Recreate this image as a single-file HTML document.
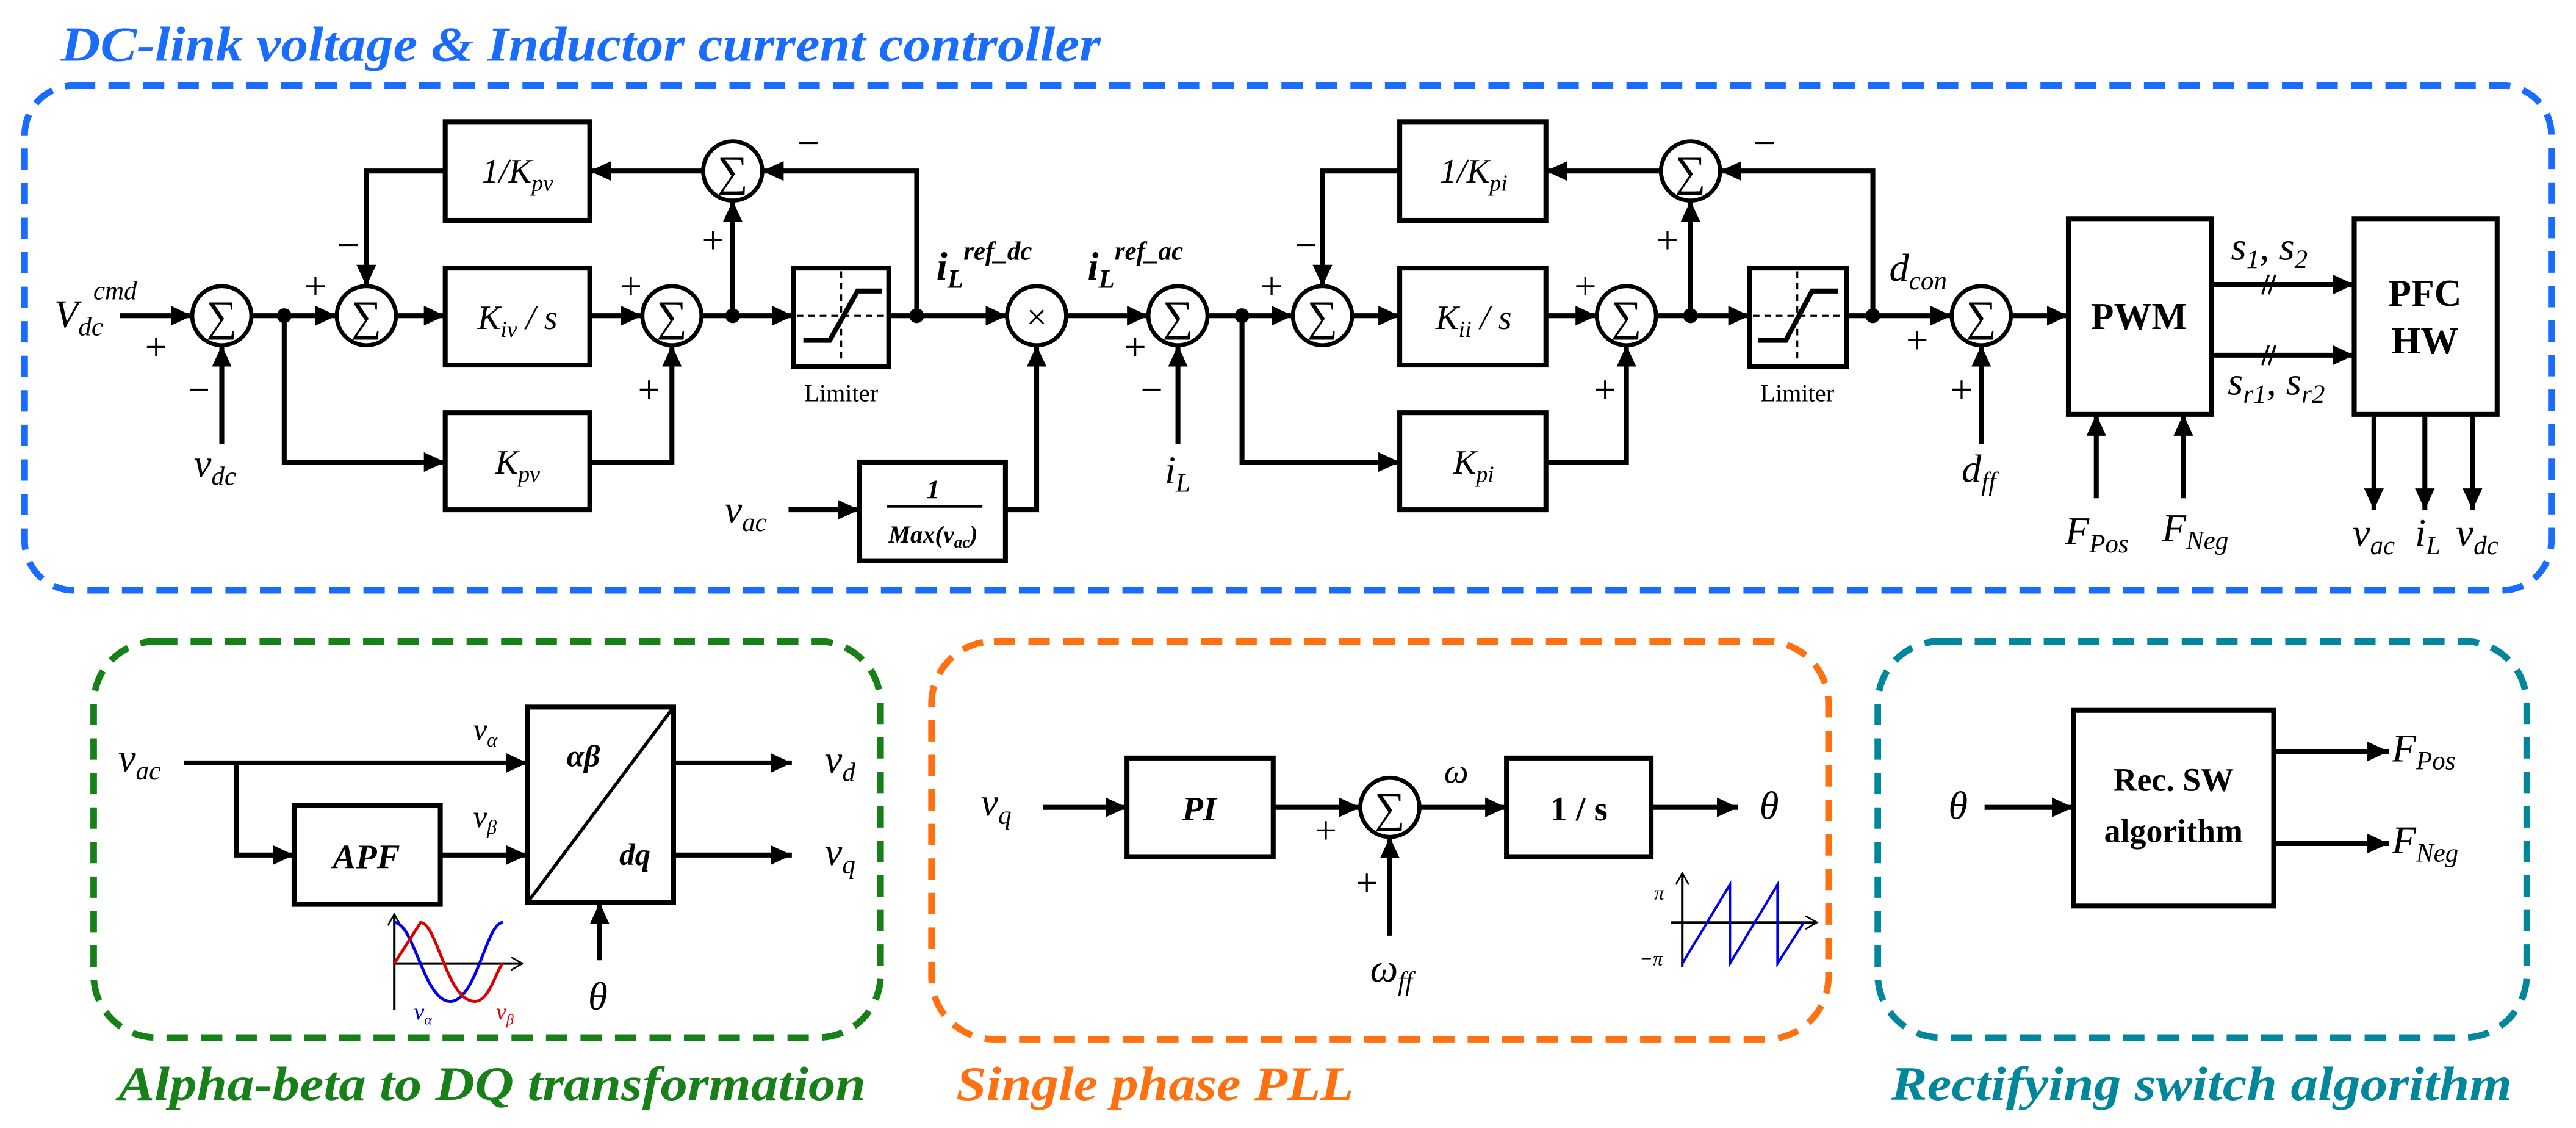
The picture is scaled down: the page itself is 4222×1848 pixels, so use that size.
<!DOCTYPE html>
<html><head><meta charset="utf-8"><style>
html,body{margin:0;padding:0;background:#fff;}
svg{display:block;font-family:"Liberation Serif","DejaVu Serif",serif;}
svg text{font-family:"Liberation Serif","DejaVu Serif",serif;font-style:italic;fill:#000;}
svg text.n{font-style:normal;}
svg .b{font-weight:bold;}
</style></head><body>
<svg width="4222" height="1848" viewBox="0 0 1568 686" preserveAspectRatio="none" xmlns="http://www.w3.org/2000/svg" font-family="Liberation Serif, serif">
<defs>
<marker id="a" markerUnits="userSpaceOnUse" markerWidth="14" markerHeight="14" refX="13" refY="6" orient="auto">
<path d="M0,0 L13,6 L0,12 z" fill="#000"/></marker>
<marker id="s" markerUnits="userSpaceOnUse" markerWidth="10" markerHeight="10" refX="7" refY="4" orient="auto">
<path d="M0,0 L7,4 L0,8" fill="none" stroke="#000" stroke-width="1"/></marker>
</defs>

<rect x="15" y="52" width="1538" height="307" rx="30" fill="none" stroke="#1a6cff" stroke-width="4" stroke-dasharray="13 8"/>
<rect x="57" y="390" width="479" height="241" rx="38" fill="none" stroke="#188018" stroke-width="4" stroke-dasharray="13 8"/>
<rect x="567" y="390" width="546" height="242" rx="38" fill="none" stroke="#ff7010" stroke-width="4" stroke-dasharray="13 8"/>
<rect x="1143" y="390" width="395" height="241" rx="38" fill="none" stroke="#00879b" stroke-width="4" stroke-dasharray="13 8"/>

<text x="37" y="37" font-size="30" font-family="Liberation Serif, serif" class="b" style="fill:#1a6cff" textLength="633" lengthAdjust="spacingAndGlyphs">DC-link voltage &amp; Inductor current controller</text>
<text x="72" y="669" font-size="29" font-family="Liberation Serif, serif" class="b" style="fill:#188018" textLength="455" lengthAdjust="spacingAndGlyphs">Alpha-beta to DQ transformation</text>
<text x="582" y="669" font-size="29" font-family="Liberation Serif, serif" class="b" style="fill:#ff7010" textLength="242" lengthAdjust="spacingAndGlyphs">Single phase PLL</text>
<text x="1151" y="669" font-size="29" font-family="Liberation Serif, serif" class="b" style="fill:#00879b" textLength="378" lengthAdjust="spacingAndGlyphs">Rectifying switch algorithm</text>

<g stroke="#000" stroke-width="3" fill="none">
<rect x="271" y="74" width="88" height="60"/>
<rect x="271" y="163" width="88" height="59"/>
<rect x="271" y="251" width="88" height="59"/>
<rect x="483" y="163" width="58" height="60"/>
<rect x="523" y="281" width="89" height="60"/>
<rect x="852" y="74" width="89" height="60"/>
<rect x="852" y="163" width="89" height="59"/>
<rect x="852" y="251" width="89" height="59"/>
<rect x="1065" y="163" width="59" height="60"/>
<rect x="1259" y="133" width="87" height="119"/>
<rect x="1433" y="133" width="87" height="119"/>
<g marker-end="url(#a)">
<line x1="73" y1="192" x2="117" y2="192"/>
<line x1="153" y1="192" x2="205" y2="192"/>
<line x1="241" y1="192" x2="271" y2="192"/>
<line x1="359" y1="192" x2="391" y2="192"/>
<line x1="427" y1="192" x2="483" y2="192"/>
<line x1="541" y1="192" x2="613" y2="192"/>
<line x1="649" y1="192" x2="699" y2="192"/>
<line x1="735" y1="192" x2="787" y2="192"/>
<line x1="823" y1="192" x2="852" y2="192"/>
<line x1="941" y1="192" x2="972" y2="192"/>
<line x1="1008" y1="192" x2="1065" y2="192"/>
<line x1="1124" y1="192" x2="1188" y2="192"/>
<line x1="1224" y1="192" x2="1259" y2="192"/>
<line x1="135" y1="270" x2="135" y2="210"/>
<polyline points="271,104 223,104 223,174"/>
<line x1="446" y1="192" x2="446" y2="122"/>
<polyline points="558,192 558,104 464,104"/>
<line x1="428" y1="104" x2="359" y2="104"/>
<polyline points="173,192 173,281 271,281"/>
<polyline points="359,281 409,281 409,210"/>
<line x1="480" y1="310" x2="523" y2="310"/>
<polyline points="612,310 631,310 631,210"/>
<line x1="717" y1="270" x2="717" y2="210"/>
<polyline points="852,104 805,104 805,174"/>
<line x1="1029" y1="192" x2="1029" y2="122"/>
<polyline points="1140,192 1140,104 1047,104"/>
<line x1="1011" y1="104" x2="941" y2="104"/>
<polyline points="756,192 756,281 852,281"/>
<polyline points="941,281 990,281 990,210"/>
<line x1="1206" y1="270" x2="1206" y2="210"/>
<line x1="1346" y1="173" x2="1433" y2="173"/>
<line x1="1346" y1="216" x2="1433" y2="216"/>
<line x1="1276" y1="303" x2="1276" y2="252"/>
<line x1="1329" y1="303" x2="1329" y2="252"/>
<line x1="1445" y1="252" x2="1445" y2="310"/>
<line x1="1476" y1="252" x2="1476" y2="310"/>
<line x1="1505" y1="252" x2="1505" y2="310"/>
</g>
<g stroke-width="1.2" stroke-dasharray="4 3">
<line x1="485" y1="192" x2="539" y2="192"/><line x1="512" y1="165" x2="512" y2="221"/>
<line x1="1067" y1="192" x2="1122" y2="192"/><line x1="1094" y1="165" x2="1094" y2="221"/>
</g>
<polyline points="489,207 505,207 522,177 537,177"/>
<polyline points="1070,207 1087,207 1103,177 1119,177"/>
<g stroke-width="1.3"><line x1="1377" y1="179" x2="1381" y2="167"/><line x1="1381" y1="179" x2="1385" y2="167"/>
<line x1="1377" y1="222" x2="1381" y2="210"/><line x1="1381" y1="222" x2="1385" y2="210"/></g>
<line x1="540" y1="308" x2="598" y2="308" stroke-width="1.5"/>

<rect x="179" y="490" width="89" height="60"/>
<rect x="321" y="430" width="89" height="119"/>
<line x1="321" y1="549" x2="410" y2="430" stroke-width="2"/>
<rect x="686" y="461" width="89" height="60"/>
<rect x="917" y="461" width="88" height="60"/>
<rect x="1262" y="432" width="122" height="119"/>
<g marker-end="url(#a)">
<line x1="112" y1="464" x2="321" y2="464"/>
<polyline points="144,464 144,520 179,520"/>
<line x1="268" y1="520" x2="321" y2="520"/>
<line x1="410" y1="464" x2="482" y2="464"/>
<line x1="410" y1="520" x2="482" y2="520"/>
<line x1="365" y1="584" x2="365" y2="549"/>
<line x1="635" y1="491" x2="686" y2="491"/>
<line x1="775" y1="491" x2="828" y2="491"/>
<line x1="846" y1="569" x2="846" y2="509"/>
<line x1="864" y1="491" x2="917" y2="491"/>
<line x1="1005" y1="491" x2="1058" y2="491"/>
<line x1="1208" y1="491" x2="1262" y2="491"/>
<line x1="1384" y1="457" x2="1454" y2="457"/>
<line x1="1384" y1="513" x2="1454" y2="513"/>
</g>
<g stroke-width="1.5">
<line x1="240" y1="614" x2="240" y2="556" marker-end="url(#s)"/>
<line x1="240" y1="586" x2="318" y2="586" marker-end="url(#s)"/>
<line x1="1024" y1="588" x2="1024" y2="531" marker-end="url(#s)"/>
<line x1="1017" y1="561" x2="1106" y2="561" marker-end="url(#s)"/>
</g>
<path d="M240,561 C252,561 258,609 274,609 C290,609 296,561 306,561" stroke="#0000ee" stroke-width="1.8"/>
<path d="M240,586 L256,561 C266,561 272,609 289,609 C298,609 302,590 306,586" stroke="#dd0000" stroke-width="1.8"/>
<polyline points="1024,586 1053,538 1053,586 1082,538 1082,586 1098,561" stroke="#0000ee" stroke-width="1.5"/>
</g>

<g stroke="#000" stroke-width="2.5" fill="#fff">
<circle cx="135" cy="192" r="18"/><circle cx="223" cy="192" r="18"/><circle cx="409" cy="192" r="18"/>
<circle cx="446" cy="104" r="18"/><circle cx="631" cy="192" r="18"/><circle cx="717" cy="192" r="18"/>
<circle cx="805" cy="192" r="18"/><circle cx="990" cy="192" r="18"/><circle cx="1029" cy="104" r="18"/>
<circle cx="1206" cy="192" r="18"/><circle cx="846" cy="491" r="18"/>
</g>
<g fill="#000">
<circle cx="173" cy="192" r="4.5"/><circle cx="446" cy="192" r="4.5"/><circle cx="558" cy="192" r="4.5"/>
<circle cx="756" cy="192" r="4.5"/><circle cx="1029" cy="192" r="4.5"/><circle cx="1140" cy="192" r="4.5"/>
</g>
<g font-size="26" text-anchor="middle">
<text x="135" y="201" class="n">∑</text><text x="223" y="201" class="n">∑</text><text x="409" y="201" class="n">∑</text>
<text x="446" y="113" class="n">∑</text><text x="631" y="200" class="n" font-size="22">×</text><text x="717" y="201" class="n">∑</text>
<text x="805" y="201" class="n">∑</text><text x="990" y="201" class="n">∑</text><text x="1029" y="113" class="n">∑</text>
<text x="1206" y="201" class="n">∑</text><text x="846" y="500" class="n">∑</text>
</g>

<g font-size="24" text-anchor="middle">
<text x="95" y="219" class="n">+</text><text x="121" y="245" class="n">−</text>
<text x="192" y="182" class="n">+</text><text x="212" y="157" class="n">−</text>
<text x="384" y="182" class="n">+</text><text x="395" y="245" class="n">+</text>
<text x="434" y="154" class="n">+</text><text x="492" y="95" class="n">−</text>
<text x="691" y="219" class="n">+</text><text x="701" y="245" class="n">−</text>
<text x="774" y="182" class="n">+</text><text x="795" y="157" class="n">−</text>
<text x="965" y="182" class="n">+</text><text x="977" y="245" class="n">+</text>
<text x="1015" y="154" class="n">+</text><text x="1074" y="95" class="n">−</text>
<text x="1167" y="215" class="n">+</text><text x="1194" y="245" class="n">+</text>
<text x="807" y="513" class="n">+</text><text x="832" y="545" class="n">+</text>
</g>

<g font-size="21" text-anchor="middle">
<text x="315" y="111">1/K<tspan font-size="14" dy="5">pv</tspan></text>
<text x="315" y="200">K<tspan font-size="14" dy="5">iv</tspan><tspan dy="-5"> / s</tspan></text>
<text x="315" y="288">K<tspan font-size="14" dy="5">pv</tspan></text>
<text x="897" y="111">1/K<tspan font-size="14" dy="5">pi</tspan></text>
<text x="897" y="200">K<tspan font-size="14" dy="5">ii</tspan><tspan dy="-5"> / s</tspan></text>
<text x="897" y="288">K<tspan font-size="14" dy="5">pi</tspan></text>
<text x="568" y="303" font-size="16" class="b">1</text>
<text x="568" y="330" font-size="15" class="b">Max(v<tspan font-size="10" dy="3">ac</tspan><tspan dy="-3">)</tspan></text>
</g>
<text x="512" y="244" font-size="15" class="n" text-anchor="middle">Limiter</text>
<text x="1094" y="244" font-size="15" class="n" text-anchor="middle">Limiter</text>
<text x="1302" y="200" font-size="23" class="n b" text-anchor="middle">PWM</text>
<text x="1476" y="186" font-size="23" class="n b" text-anchor="middle">PFC</text>
<text x="1476" y="215" font-size="23" class="n b" text-anchor="middle">HW</text>

<g font-size="24">
<text x="33" y="199">V<tspan font-size="16" dy="5">dc</tspan><tspan font-size="16" dx="-6" dy="-22">cmd</tspan></text>
<text x="118" y="290">v<tspan font-size="16" dy="5">dc</tspan></text>
<text x="570" y="170" class="b">i<tspan font-size="16" dy="5">L</tspan><tspan font-size="16" dy="-17">ref_dc</tspan></text>
<text x="662" y="170" class="b">i<tspan font-size="16" dy="5">L</tspan><tspan font-size="16" dy="-17">ref_ac</tspan></text>
<text x="441" y="318">v<tspan font-size="16" dy="5">ac</tspan></text>
<text x="709" y="294">i<tspan font-size="16" dy="5">L</tspan></text>
<text x="1150" y="171">d<tspan font-size="16" dy="5">con</tspan></text>
<text x="1194" y="293">d<tspan font-size="16" dy="5">ff</tspan></text>
<text x="1358" y="158">s<tspan font-size="16" dy="5" class="n">1</tspan><tspan dy="-5">, s</tspan><tspan font-size="16" dy="5" class="n">2</tspan></text>
<text x="1356" y="240">s<tspan font-size="16" dy="5">r</tspan><tspan font-size="16" class="n">1</tspan><tspan dy="-5">, s</tspan><tspan font-size="16" dy="5">r</tspan><tspan font-size="16" class="n">2</tspan></text>
<text x="1257" y="331">F<tspan font-size="16" dy="5">Pos</tspan></text>
<text x="1316" y="329">F<tspan font-size="16" dy="5">Neg</tspan></text>
<text x="1432" y="332">v<tspan font-size="16" dy="5">ac</tspan></text>
<text x="1470" y="332">i<tspan font-size="16" dy="5">L</tspan></text>
<text x="1495" y="332">v<tspan font-size="16" dy="5">dc</tspan></text>
</g>

<g font-size="24">
<text x="72" y="469">v<tspan font-size="16" dy="5">ac</tspan></text>
<text x="288" y="450" font-size="19">v<tspan font-size="12" dy="4">α</tspan></text>
<text x="288" y="503" font-size="19">v<tspan font-size="12" dy="4">β</tspan></text>
<text x="502" y="470">v<tspan font-size="16" dy="5">d</tspan></text>
<text x="502" y="526">v<tspan font-size="16" dy="5">q</tspan></text>
<text x="358" y="614">θ</text>
<text x="597" y="496">v<tspan font-size="16" dy="5">q</tspan></text>
<text x="879" y="476" font-size="21">ω</text>
<text x="834" y="597">ω<tspan font-size="16" dy="5">ff</tspan></text>
<text x="1071" y="498">θ</text>
<text x="1186" y="498">θ</text>
<text x="1456" y="463">F<tspan font-size="16" dy="5">Pos</tspan></text>
<text x="1456" y="519">F<tspan font-size="16" dy="5">Neg</tspan></text>
</g>
<text x="345" y="466" font-size="19" class="b">αβ</text>
<text x="377" y="526" font-size="19" class="b">dq</text>
<text x="223" y="528" font-size="21" class="b" text-anchor="middle">APF</text>
<text x="730" y="499" font-size="21" class="b" text-anchor="middle">PI</text>
<text x="961" y="499" font-size="21" class="b n" text-anchor="middle">1 / s</text>
<text x="1323" y="481" font-size="20" class="b n" text-anchor="middle">Rec. SW</text>
<text x="1323" y="512" font-size="20" class="b n" text-anchor="middle">algorithm</text>
<text x="252" y="620" font-size="14" style="fill:#0000ee">v<tspan font-size="9" dy="3">α</tspan></text>
<text x="302" y="620" font-size="14" style="fill:#dd0000">v<tspan font-size="9" dy="3">β</tspan></text>
<text x="1007" y="547" font-size="12">π</text>
<text x="998" y="587" font-size="12">−π</text>
</svg>
</body></html>
